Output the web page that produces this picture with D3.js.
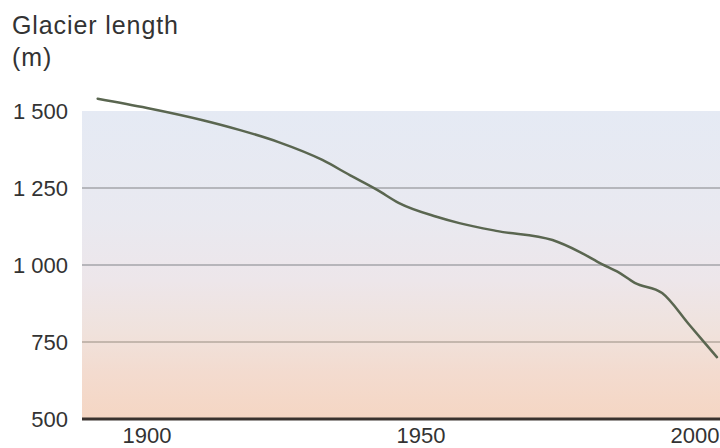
<!DOCTYPE html>
<html>
<head>
<meta charset="utf-8">
<script src="https://cdn.jsdelivr.net/npm/d3@7"></script>
<style>
  html, body { margin: 0; padding: 0; background: #ffffff; }
  svg { display: block; }
  text { font-family: "Liberation Sans", Arial, sans-serif; fill: #333333; }
</style>
</head>
<body>
<svg id="chart" width="720" height="448"></svg>
<script>
// ---- data ----
const years   = [1891, 1900, 1910, 1917, 1924, 1932, 1937, 1942, 1946, 1953, 1957, 1964, 1974, 1979, 1983, 1986, 1989, 1994, 1999, 2004];
const lengths = [1540, 1510, 1471, 1438, 1399, 1341, 1292, 1244, 1201, 1156, 1136, 1110, 1081, 1042, 1003, 977, 942, 909, 805, 701];
const yTicks  = [500, 750, 1000, 1250, 1500];
const yTickLabels = ["500", "750", "1 000", "1 250", "1 500"];
const xTicks  = [1900, 1950, 2000];
const titleLines = ["Glacier length", "(m)"];

// ---- layout ----
const svg = d3.select("#chart");
const plotLeft = 82, plotRight = 720;

const x = d3.scaleLinear().domain([1900, 2000]).range([147, 695]);
const y = d3.scaleLinear().domain([500, 1500]).range([419, 111]);

// gradient background
const defs = svg.append("defs");
const grad = defs.append("linearGradient").attr("id", "bg")
  .attr("x1", 0).attr("y1", 0).attr("x2", 0).attr("y2", 1);
[[0, "#e5eaf4"], [0.35, "#e9e9f0"], [0.55, "#ede6ea"], [0.72, "#f0e2dc"], [0.85, "#f3dbcf"], [1, "#f5d6c3"]]
  .forEach(([o, c]) => grad.append("stop").attr("offset", o).attr("stop-color", c));

svg.append("rect")
  .attr("x", plotLeft).attr("y", y(1500))
  .attr("width", plotRight - plotLeft).attr("height", y(500) - y(1500))
  .attr("fill", "url(#bg)");

// gridlines
svg.append("g").selectAll("line")
  .data(yTicks.filter(d => d > 500 && d < 1500))
  .join("line")
  .attr("x1", plotLeft).attr("x2", plotRight)
  .attr("y1", d => y(d)).attr("y2", d => y(d))
  .attr("stroke", d => d === 750 ? "#b5a89e" : "#a4a5aa")
  .attr("stroke-width", 1.6);

// baseline
svg.append("line")
  .attr("x1", plotLeft).attr("x2", plotRight)
  .attr("y1", y(500)).attr("y2", y(500))
  .attr("stroke", "#3a322e").attr("stroke-width", 3);

// y tick labels
svg.append("g").selectAll("text")
  .data(yTicks)
  .join("text")
  .attr("x", 68)
  .attr("y", d => y(d))
  .attr("dy", "0.36em")
  .attr("text-anchor", "end")
  .attr("font-size", 22)
  .text((d, i) => yTickLabels[i]);

// x tick labels
svg.append("g").selectAll("text")
  .data(xTicks)
  .join("text")
  .attr("x", d => x(d))
  .attr("y", 443)
  .attr("text-anchor", "middle")
  .attr("font-size", 22)
  .text(d => d);

// title
svg.append("g").selectAll("text")
  .data(titleLines)
  .join("text")
  .attr("x", 12)
  .attr("y", (d, i) => 34 + i * 32)
  .attr("font-size", 25)
  .attr("letter-spacing", 0.9)
  .text(d => d);

// line
const line = d3.line()
  .x((d, i) => x(years[i]))
  .y(d => y(d))
  .curve(d3.curveMonotoneX);

svg.append("path")
  .datum(lengths)
  .attr("d", line)
  .attr("fill", "none")
  .attr("stroke", "#5a6650")
  .attr("stroke-width", 2.5)
  .attr("stroke-linejoin", "round")
  .attr("stroke-linecap", "round");
</script>
</body>
</html>
